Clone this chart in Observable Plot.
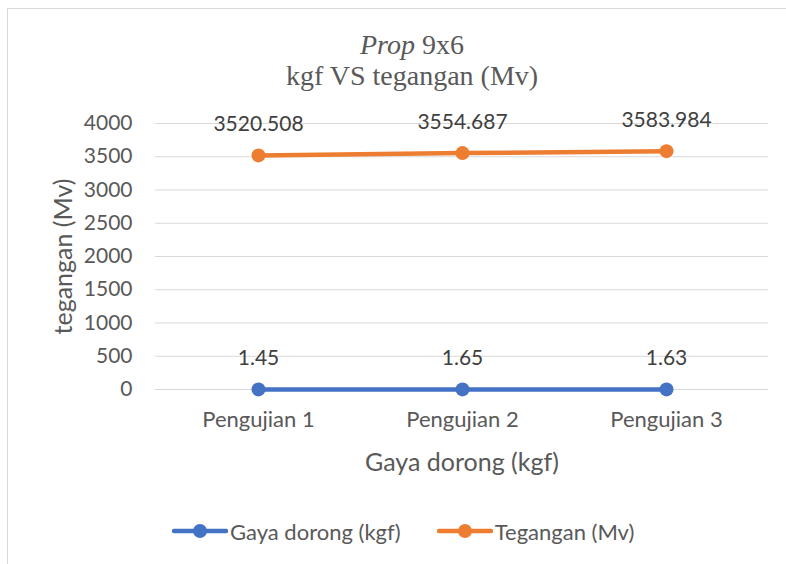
<!DOCTYPE html>
<html><head><meta charset="utf-8">
<script src="https://cdn.jsdelivr.net/npm/d3@7"></script>
<script src="https://cdn.jsdelivr.net/npm/@observablehq/plot@0.6"></script>
<style>
body{margin:0;background:#fff;}
#wrap{position:relative;width:786px;height:564px;overflow:hidden;font-family:Lato,sans-serif;color:#595959;background:#fff;}
#frame{position:absolute;left:7px;top:8px;width:820px;height:600px;border:1px solid #d9d9d9;}
#title{position:absolute;left:0;width:824px;top:29px;text-align:center;font-family:"Liberation Serif",serif;font-size:28px;line-height:31px;color:#595959;white-space:nowrap;}
#chart{position:absolute;left:0;top:100px;}
#legend{position:absolute;left:172px;top:517px;height:28px;display:flex;align-items:center;font-size:22px;color:#595959;white-space:nowrap;}
.item{display:flex;align-items:center;margin-right:36px;}
.item span{margin-left:2px;}
</style></head>
<body>
<div id="wrap">
  <div id="frame"></div>
  <div id="title"><i>Prop</i> 9x6<br>kgf VS tegangan (Mv)</div>
  <div id="chart"></div>
  <div id="legend"></div>
</div>
<script>
const categories = ["Pengujian 1", "Pengujian 2", "Pengujian 3"];
const gayaDorong = [1.45, 1.65, 1.63];
const tegangan = [3520.508, 3554.687, 3583.984];
const seriesNames = ["Gaya dorong (kgf)", "Tegangan (Mv)"];
const seriesColors = ["#4472C4", "#ED7D31"];
const yTicks = [0, 500, 1000, 1500, 2000, 2500, 3000, 3500, 4000];
const xTitle = "Gaya dorong (kgf)";
const yTitle = "tegangan (Mv)";

const rows = [];
[gayaDorong, tegangan].forEach((vals, s) => {
  categories.forEach((c, i) => rows.push({cat: c, series: seriesNames[s], value: vals[i], label: String(vals[i])}));
});

const plot = Plot.plot({
  width: 786,
  height: 380,
  marginTop: 23,
  marginBottom: 91,
  marginLeft: 155,
  marginRight: 18,
  style: {fontFamily: "Lato, sans-serif", color: "#595959", background: "transparent"},
  x: {type: "point", domain: categories, padding: 0.5},
  y: {domain: [0, 4000]},
  color: {domain: seriesNames, range: seriesColors},
  marks: [
    Plot.gridY(yTicks, {stroke: "#d9d9d9", strokeOpacity: 1, strokeWidth: 1}),
    Plot.axisY(yTicks, {tickSize: 0, tickPadding: 23, fontSize: 21, label: null, tickFormat: d => String(d)}),
    Plot.axisX({tickSize: 0, tickPadding: 22, fontSize: 22, label: null}),
    Plot.text([xTitle], {frameAnchor: "bottom", dy: 73, fontSize: 25, lineAnchor: "middle", textAnchor: "middle"}),
    Plot.text([yTitle], {frameAnchor: "left", dx: -92, rotate: -90, fontSize: 25, lineAnchor: "middle", textAnchor: "middle"}),
    Plot.line(rows, {x: "cat", y: "value", z: "series", stroke: "series", strokeWidth: 4.5}),
    Plot.dot(rows, {x: "cat", y: "value", fill: "series", r: 7, stroke: "none"}),
    Plot.text(rows, {x: "cat", y: "value", text: "label", dy: -31, fontSize: 21, fill: "#404040", lineAnchor: "middle"})
  ]
});
document.getElementById("chart").appendChild(plot);

const legend = document.getElementById("legend");
seriesNames.forEach((name, i) => {
  const item = document.createElement("div");
  item.className = "item";
  item.innerHTML = `<svg width="56" height="16"><line x1="2" y1="8" x2="54" y2="8" stroke="${seriesColors[i]}" stroke-width="4.5" stroke-linecap="round"/><circle cx="28" cy="8" r="7" fill="${seriesColors[i]}"/></svg><span>${name}</span>`;
  legend.appendChild(item);
});
</script>
</body></html>
